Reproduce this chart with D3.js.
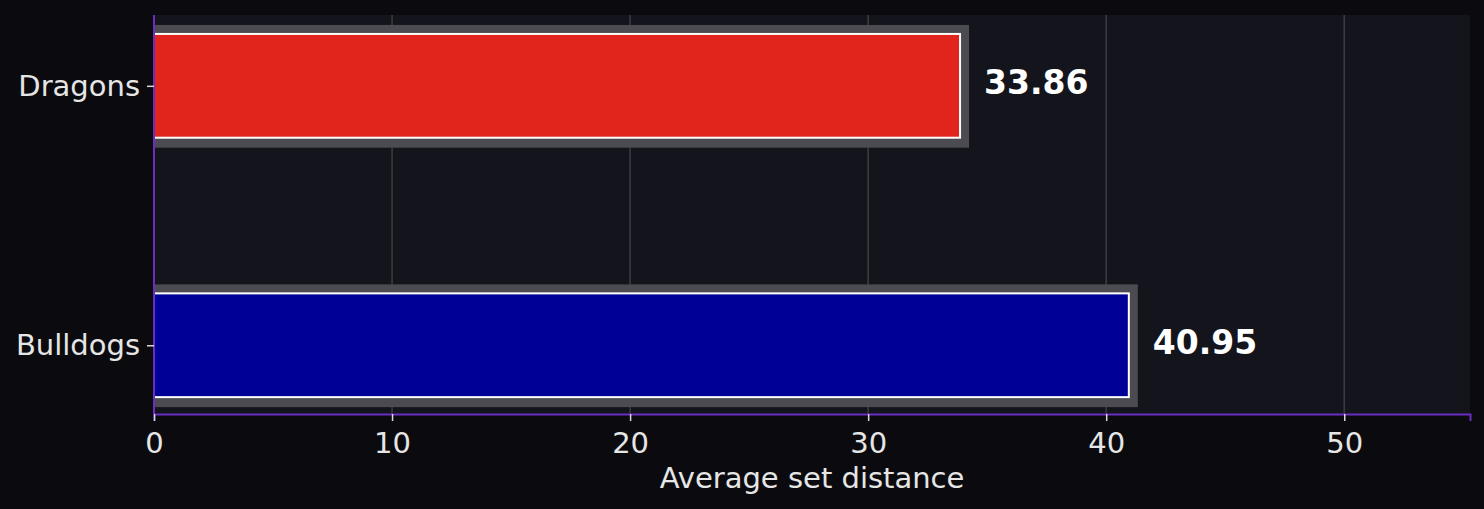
<!DOCTYPE html>
<html>
<head>
<meta charset="utf-8">
<script src="https://cdn.jsdelivr.net/npm/d3@7"></script>
<style>
  body { margin: 0; background: #0b0b0f; }
  text { font-family: "DejaVu Sans", sans-serif; }
</style>
</head>
<body>
<script>
const teams = ['Dragons', 'Bulldogs'];
const distances = [33.86, 40.95];
const barColors = ['#e1241c', '#000096'];
const xTicks = [0, 10, 20, 30, 40, 50];

const svgWidth = 1484;
const svgHeight = 509;
const margin = { left: 154, top: 15, right: 14, bottom: 95 };
const width = svgWidth - margin.left - margin.right;
const height = svgHeight - margin.top - margin.bottom;
const tickFont = 29;

const svg = d3.select('body').append('svg')
  .attr('width', svgWidth)
  .attr('height', svgHeight)
  .style('display', 'block');

svg.append('rect')
  .attr('width', svgWidth)
  .attr('height', svgHeight)
  .attr('fill', '#0b0b0f');

const g = svg.append('g')
  .attr('transform', `translate(${margin.left}, ${margin.top})`);

g.append('rect')
  .attr('width', width)
  .attr('height', height)
  .attr('fill', '#13141c');

const xScale = d3.scaleLinear()
  .domain([0, d3.max(distances) * 1.35])
  .range([0, width]);

// position 0 = Bulldogs (bottom), 1 = Dragons (top), bar height 0.4
const yScale = d3.scaleLinear()
  .domain([-0.265, 1.273])
  .range([height, 0]);
const yPos = d => (d === 'Bulldogs' ? 0 : 1);
const barH = yScale(0) - yScale(0.4);

// grid
g.selectAll('.grid')
  .data(xTicks)
  .enter()
  .append('line')
  .attr('x1', d => xScale(d))
  .attr('x2', d => xScale(d))
  .attr('y1', 0)
  .attr('y2', height)
  .attr('stroke', '#3a3b42')
  .attr('stroke-width', 1.6);

const data = teams.map((t, i) => ({ team: t, value: distances[i], color: barColors[i] }));

g.append('clipPath').attr('id', 'plotclip')
  .append('rect').attr('width', width).attr('height', height);

const bars = g.append('g').attr('clip-path', 'url(#plotclip)');

// shadow/halo behind bars
bars.selectAll('.shadow')
  .data(data)
  .enter()
  .append('rect')
  .attr('x', -10)
  .attr('y', d => yScale(yPos(d.team)) - barH / 2 - 9)
  .attr('width', d => xScale(d.value) + 19)
  .attr('height', barH + 19)
  .attr('fill', '#4b4b51');

bars.selectAll('.bar')
  .data(data)
  .enter()
  .append('rect')
  .attr('x', 0)
  .attr('y', d => yScale(yPos(d.team)) - barH / 2)
  .attr('width', d => xScale(d.value))
  .attr('height', barH)
  .attr('fill', d => d.color)
  .attr('stroke', '#ffffff')
  .attr('stroke-width', 2);

g.selectAll('.val')
  .data(data)
  .enter()
  .append('text')
  .attr('x', d => xScale(d.value) + 24)
  .attr('y', d => yScale(yPos(d.team)))
  .attr('dy', '0.25em')
  .attr('fill', '#ffffff')
  .attr('font-size', 33)
  .attr('font-weight', 'bold')
  .text(d => d.value.toFixed(2));

// axes
const xAxis = d3.axisBottom(xScale).tickValues(xTicks).tickSize(7).tickPadding(11);
const xg = g.append('g')
  .attr('transform', `translate(0, ${height})`)
  .call(xAxis);
xg.select('.domain').attr('stroke', '#6a2cc4').attr('stroke-width', 2);
xg.selectAll('.tick line').attr('stroke', '#d8d8d8').attr('stroke-width', 1.5);
xg.selectAll('.tick text')
  .attr('fill', '#e6e6e6')
  .attr('font-size', tickFont)
  .attr('font-family', 'DejaVu Sans');

const yAxis = d3.axisLeft(yScale).tickValues([0, 1])
  .tickFormat(d => (d === 0 ? 'Bulldogs' : 'Dragons'))
  .tickSize(7).tickPadding(7);
const yg = g.append('g').call(yAxis);
yg.select('.domain').attr('d', `M0,0V${height}`).attr('stroke', '#6a2cc4').attr('stroke-width', 2);
yg.selectAll('.tick line').attr('stroke', '#d8d8d8').attr('stroke-width', 1.5);
yg.selectAll('.tick text')
  .attr('fill', '#e6e6e6')
  .attr('font-size', tickFont)
  .attr('font-family', 'DejaVu Sans');

g.append('text')
  .attr('x', width / 2)
  .attr('y', height + 74)
  .attr('text-anchor', 'middle')
  .attr('fill', '#e6e6e6')
  .attr('font-size', tickFont)
  .text('Average set distance');
</script>
</body>
</html>
